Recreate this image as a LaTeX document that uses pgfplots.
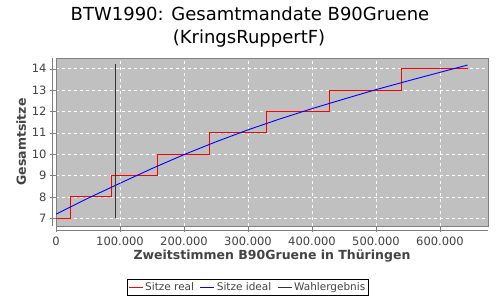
\documentclass[border=0pt]{standalone}
\usepackage{pgfplots}
\pgfplotsset{compat=1.18}
\usepackage{fontspec}
\setmainfont{DejaVu Sans}
\definecolor{plotbg}{RGB}{192,192,192}
\definecolor{bordergray}{RGB}{128,128,128}
\definecolor{labgray}{RGB}{68,68,68}
\begin{document}
\begin{tikzpicture}[x=1pt,y=1pt]
\path[use as bounding box] (0,0) rectangle (500,300);
\fill[white] (0,0) rectangle (500,300);
\node[font=\fontsize{18}{20}\selectfont, text=black] at (250,286) {BTW1990: Gesamtmandate B90Gruene};
\node[font=\fontsize{18}{20}\selectfont, text=black] at (249,261) {(KringsRuppertF)};
% offset axis lines
\draw[bordergray] (52,74) -- (52,242);
\draw[bordergray] (56,70) -- (488,70);
\begin{axis}[
  at={(56pt,74pt)}, anchor=south west,
  scale only axis, width=432pt, height=168pt,
  xmin=0, xmax=675000, ymin=6.64, ymax=14.5,
  axis background/.style={fill=plotbg},
  axis line style={draw=bordergray},
  grid=major,
  grid style={white, dashed, line width=0.5pt},
  xtick={0,100000,200000,300000,400000,500000,600000},
  xticklabels={0,100.000,200.000,300.000,400.000,500.000,600.000},
  ytick={7,8,9,10,11,12,13,14},
  scaled x ticks=false,
  tick align=outside,
  major tick length=6pt,
  tick style={bordergray},
  xtick pos=bottom, ytick pos=left,
  /pgf/number format/assume math mode=true,
  tick label style={font=\fontsize{11.5}{12}\selectfont, text=labgray},
  xticklabel style={yshift=-1pt},
  xlabel={Zweitstimmen B90Gruene in Thüringen},
  ylabel={Gesamtsitze},
  label style={font=\bfseries\fontsize{12.5}{14}\selectfont, text=labgray},
  xlabel style={yshift=2pt},
  ylabel style={yshift=-1pt},
  legend columns=3,
  legend style={at={(0.444,-0.366)}, anchor=center, draw=black, line width=0.6pt,
    font=\fontsize{10.5}{12}\selectfont, text=labgray, inner sep=1.5pt,
    /tikz/every even column/.append style={column sep=4pt}},
  legend image code/.code={\draw[#1, line width=0.8pt] (0pt,0pt) -- (14pt,0pt);},
]
\addplot[const plot, red, line width=0.9pt] coordinates {
  (0,7) (21900,8) (87000,9) (159000,10) (239500,11) (328600,12) (427000,13) (539000,14) (643000,14)
};
\addlegendentry{Sitze real}
\addplot[blue, line width=0.9pt] coordinates {
  (0,7.19) (50000,7.94) (100000,8.64) (150000,9.33) (200000,9.98) (250000,10.58)
  (300000,11.14) (350000,11.65) (400000,12.13) (450000,12.58) (500000,13.02)
  (550000,13.43) (600000,13.83) (643000,14.17)
};
\addlegendentry{Sitze ideal}
\addplot[black!80, line width=0.8pt] coordinates {(92700,7) (92700,14.2)};
\addlegendentry{Wahlergebnis}
\end{axis}
\end{tikzpicture}
\end{document}
